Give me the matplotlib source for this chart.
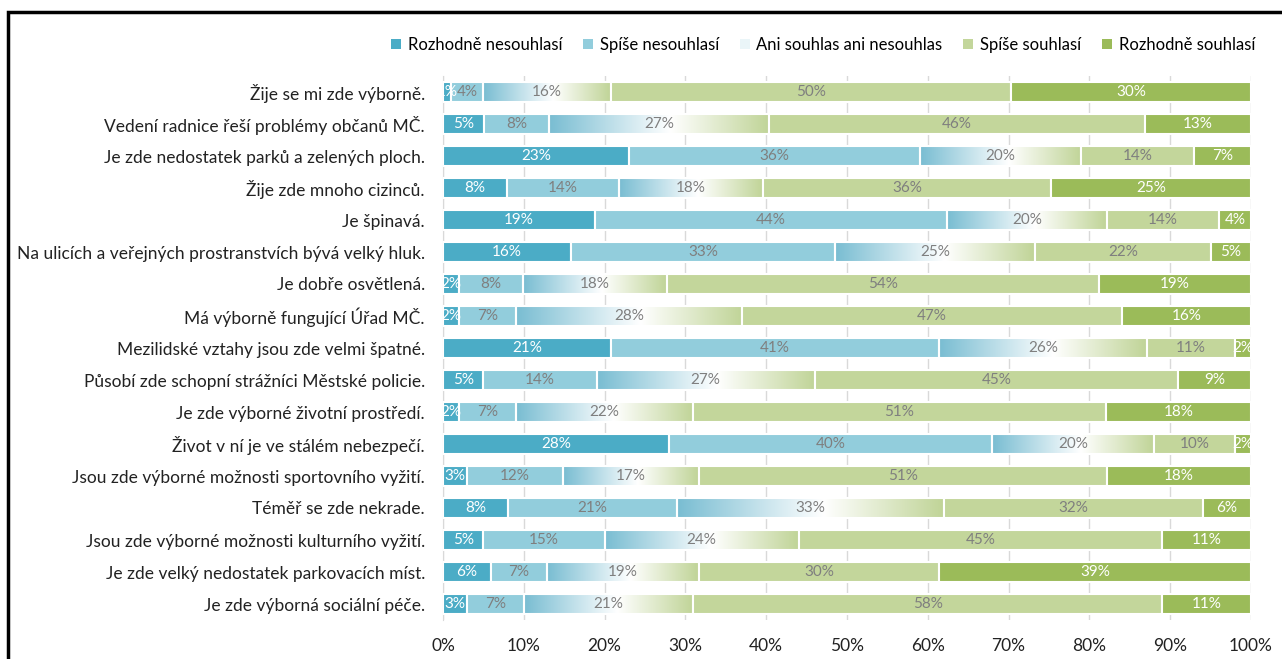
import numpy as np
import matplotlib
matplotlib.use('Agg')
from matplotlib import pyplot as plt
from matplotlib.patches import Rectangle, Patch
from matplotlib.colors import LinearSegmentedColormap

plt.rcParams['font.family'] = ['Lato', 'DejaVu Sans']

statements = [
    'Žije se mi zde výborně.',
    'Vedení radnice řeší problémy občanů MČ.',
    'Je zde nedostatek parků a zelených ploch.',
    'Žije zde mnoho cizinců.',
    'Je špinavá.',
    'Na ulicích a veřejných prostranstvích bývá velký hluk.',
    'Je dobře osvětlená.',
    'Má výborně fungující Úřad MČ.',
    'Mezilidské vztahy jsou zde velmi špatné.',
    'Působí zde schopní strážníci Městské policie.',
    'Je zde výborné životní prostředí.',
    'Život v ní je ve stálém nebezpečí.',
    'Jsou zde výborné možnosti sportovního vyžití.',
    'Téměř se zde nekrade.',
    'Jsou zde výborné možnosti kulturního vyžití.',
    'Je zde velký nedostatek parkovacích míst.',
    'Je zde výborná sociální péče.',
]
categories = ['Rozhodně nesouhlasí', 'Spíše nesouhlasí', 'Ani souhlas ani nesouhlas',
              'Spíše souhlasí', 'Rozhodně souhlasí']

rozhodne_ne = [1, 5, 23, 8, 19, 16, 2, 2, 21, 5, 2, 28, 3, 8, 5, 6, 3]
spise_ne = [4, 8, 36, 14, 44, 33, 8, 7, 41, 14, 7, 40, 12, 21, 15, 7, 7]
ani = [16, 27, 20, 18, 20, 25, 18, 28, 26, 27, 22, 20, 17, 33, 24, 19, 21]
spise_ano = [50, 46, 14, 36, 14, 22, 54, 47, 11, 45, 51, 10, 51, 32, 45, 30, 58]
rozhodne_ano = [30, 13, 7, 25, 4, 5, 19, 16, 2, 9, 18, 2, 18, 6, 11, 39, 11]

series = np.array([rozhodne_ne, spise_ne, ani, spise_ano, rozhodne_ano], dtype=float)
shares = series / series.sum(axis=0)

colors = ['#4bacc6', '#92cddc', None, '#c3d69b', '#9bbb59']
txt_colors = ['white', '#7f7f7f', '#7f7f7f', '#7f7f7f', 'white']
grad = LinearSegmentedColormap.from_list('ani', [(0, '#79bdd2'), (0.55, '#ffffff'), (1, '#c0d497')])

fig = plt.figure(figsize=(12.82, 6.59), dpi=100)
ax = fig.add_axes([443/1282, 39/659, 808/1282, 544/659])

n = len(statements)
ypos = np.arange(n)
h = 0.63
gvals = np.linspace(0, 1, 256).reshape(1, -1)

for i in range(n):
    left = 0.0
    for k in range(5):
        w = shares[k, i]
        y0 = ypos[i] - h/2
        if colors[k] is None:
            ax.imshow(gvals, cmap=grad, aspect='auto', extent=[left, left + w, y0 + h, y0],
                      zorder=2, interpolation='bilinear')
            ax.add_patch(Rectangle((left, y0), w, h, facecolor='none', edgecolor='white',
                                   linewidth=1.5, zorder=3))
        else:
            ax.add_patch(Rectangle((left, y0), w, h, facecolor=colors[k], edgecolor='white',
                                   linewidth=1.5, zorder=3))
        ax.text(left + w/2, ypos[i], '%d%%' % series[k, i], ha='center', va='center',
                fontsize=11, color=txt_colors[k], zorder=4, clip_on=True)
        left += w

ax.set_xlim(0, 1)
ax.set_ylim(n - 0.5, -0.5)
ax.set_yticks(ypos)
ax.set_yticklabels(statements, fontsize=12.5, color='#222222')
ax.set_xticks(np.linspace(0, 1, 11))
ax.set_xticklabels(['%d%%' % v for v in range(0, 101, 10)], fontsize=12.5, color='#222222')
ax.tick_params(axis='x', length=0, pad=13)
ax.tick_params(axis='y', length=0, pad=13)
ax.grid(axis='x', color='#d9d9d9', linewidth=1, zorder=0)
ax.set_axisbelow(True)
for s in ['top', 'right', 'bottom']:
    ax.spines[s].set_visible(False)
ax.spines['left'].set_color('#d9d9d9')

handles = [Patch(facecolor='#4bacc6'), Patch(facecolor='#92cddc'), Patch(facecolor='#eaf5f8'),
           Patch(facecolor='#c3d69b'), Patch(facecolor='#9bbb59')]
fig.legend(handles, categories, loc='center', bbox_to_anchor=(823/1282, 1 - 45/659), ncol=5,
           frameon=False, fontsize=12, handlelength=0.6, handleheight=0.6, handletextpad=0.4,
           columnspacing=1.25)

fig.add_artist(Rectangle((8/1282, -0.05), 1.2, 1 - 12/659 + 0.05, transform=fig.transFigure,
                         facecolor='none', edgecolor='black', linewidth=2.5))

fig.savefig('out.png', dpi=100)
